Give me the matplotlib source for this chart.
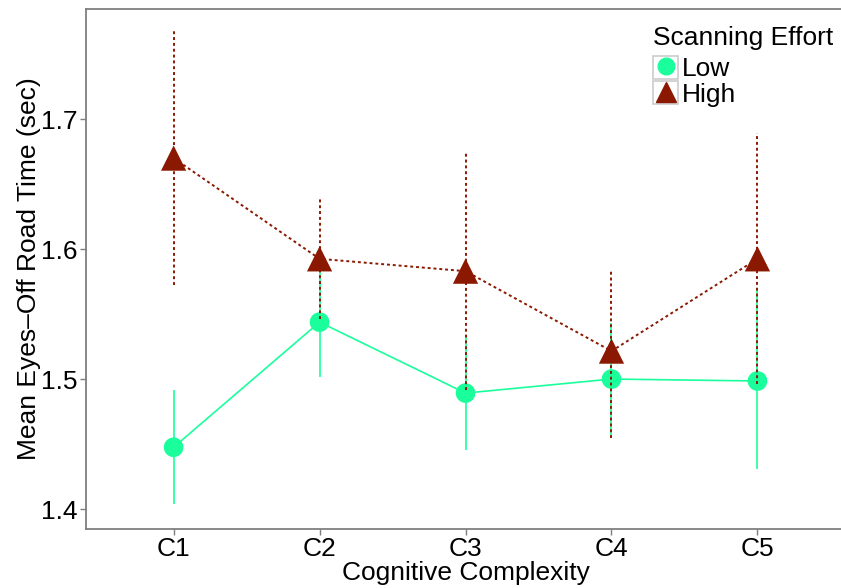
import numpy as np
import matplotlib
matplotlib.use('Agg')
import matplotlib.pyplot as plt
from matplotlib.patches import Rectangle
from matplotlib.lines import Line2D
from matplotlib.legend_handler import HandlerTuple

plt.rcParams['font.family'] = ['Liberation Sans', 'DejaVu Sans']

# data
categories = ['C1', 'C2', 'C3', 'C4', 'C5']
low_mean = [1.4475, 1.5438, 1.4892, 1.5000, 1.4985]
low_lower = [1.4035, 1.5015, 1.4454, 1.4570, 1.4308]
low_upper = [1.4915, 1.5860, 1.5320, 1.5430, 1.5690]
high_mean = [1.6700, 1.5925, 1.5830, 1.5215, 1.5925]
high_lower = [1.5725, 1.5465, 1.4914, 1.4550, 1.4960]
high_upper = [1.7680, 1.6385, 1.6746, 1.5830, 1.6890]

green = '#1AFF9C'
red = '#8B1800'
grey = '#7F7F7F'

fig = plt.figure(figsize=(8.41, 5.88), dpi=100)
ax = fig.add_axes([0.1023, 0.1003, 0.9025, 0.885])

x = np.arange(1, len(categories) + 1)

# Low
ax.plot(x, low_mean, color=green, lw=1.2, zorder=2)
ax.vlines(x, low_lower, low_upper, color=green, lw=1.2, zorder=2)
ax.scatter(x, low_mean, s=200, marker='o', color=green, edgecolors='none', zorder=3)

# High
ax.plot(x, high_mean, color=red, lw=1.4, ls=(0, (1.5, 1.5)), zorder=4)
ax.vlines(x, high_lower, high_upper, color=red, lw=1.4, linestyles=[(0, (1.5, 1.5))], zorder=4)
ax.scatter(x, high_mean, s=330, marker='^', color=red, edgecolors='none', zorder=5)

ax.set_xlim(0.4, 5.6)
ax.set_ylim(1.3846, 1.785)
ax.set_xticks(x)
ax.set_xticklabels(categories)
ax.set_yticks([1.4, 1.5, 1.6, 1.7])
ax.set_yticklabels(['1.4', '1.5', '1.6', '1.7'])
ax.tick_params(axis='both', labelsize=19, color=grey, length=4, width=1, pad=2)

for s in ['left', 'top', 'bottom']:
    ax.spines[s].set_color(grey)
    ax.spines[s].set_linewidth(1.3)
ax.spines['right'].set_visible(False)

ax.set_xlabel('Cognitive Complexity', fontsize=19, labelpad=0)
ax.set_ylabel('Mean Eyes\u2013Off Road Time (sec)', fontsize=19, labelpad=0)

def key(marker, color, ms):
    box = Rectangle((0, 0), 1, 1, facecolor='white', edgecolor='#CCCCCC', lw=1.2)
    mk = Line2D([], [], marker=marker, color=color, ms=ms, ls='none')
    return (box, mk)

leg = fig.legend([key('o', green, 12), key('^', red, 15)], ['Low', 'High'],
                 title='Scanning Effort', loc='upper left',
                 bbox_to_anchor=(0.7765, 0.955), frameon=False, fontsize=19,
                 title_fontsize=19, handler_map={tuple: HandlerTuple(ndivide=1, pad=0)},
                 handlelength=0.95, handleheight=0.95, handletextpad=0.15,
                 labelspacing=0.0, borderpad=0, borderaxespad=0)
leg._legend_box.align = 'left'
leg._legend_box.sep = 4

fig.savefig('out.png', dpi=100)
